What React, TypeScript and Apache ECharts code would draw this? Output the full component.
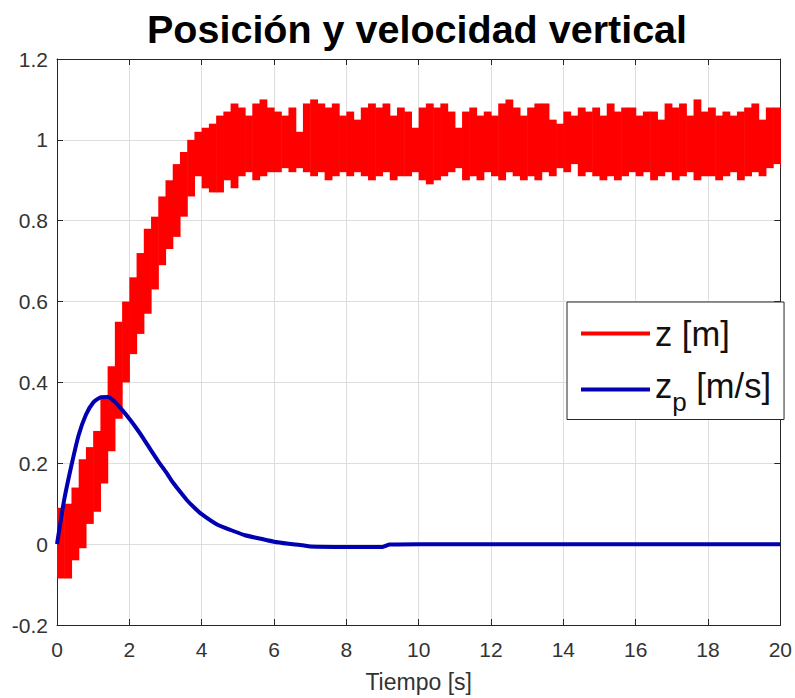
import { useEffect, useRef } from 'react';
import * as echarts from 'echarts';

const TITLE = 'Posición y velocidad vertical';
const X_NAME = 'Tiempo [s]';
const FONT = '"Liberation Sans", Arial, Helvetica, sans-serif';

// z [m] : sampled every 0.2 s, lower and upper edges of the noisy band
const tZ = [
  0, 0.2, 0.4, 0.6, 0.8, 1, 1.2, 1.4, 1.6, 1.8,
  2, 2.2, 2.4, 2.6, 2.8, 3, 3.2, 3.4, 3.6, 3.8,
  4, 4.2, 4.4, 4.6, 4.8, 5, 5.2, 5.4, 5.6, 5.8,
  6, 6.2, 6.4, 6.6, 6.8, 7, 7.2, 7.4, 7.6, 7.8,
  8, 8.2, 8.4, 8.6, 8.8, 9, 9.2, 9.4, 9.6, 9.8,
  10, 10.2, 10.4, 10.6, 10.8, 11, 11.2, 11.4, 11.6, 11.8,
  12, 12.2, 12.4, 12.6, 12.8, 13, 13.2, 13.4, 13.6, 13.8,
  14, 14.2, 14.4, 14.6, 14.8, 15, 15.2, 15.4, 15.6, 15.8,
  16, 16.2, 16.4, 16.6, 16.8, 17, 17.2, 17.4, 17.6, 17.8,
  18, 18.2, 18.4, 18.6, 18.8, 19, 19.2, 19.4, 19.6, 19.8,
  20,
];
const zLow = [
  -0.085, -0.085, -0.04, -0.01, 0.05, 0.08, 0.15, 0.23, 0.31, 0.4,
  0.47, 0.52, 0.57, 0.63, 0.69, 0.73, 0.76, 0.81, 0.86, 0.91,
  0.88, 0.87, 0.87, 0.9, 0.88, 0.91, 0.92, 0.9, 0.91, 0.92,
  0.92, 0.93, 0.92, 0.93, 0.92, 0.91, 0.92, 0.9, 0.91, 0.92,
  0.91, 0.92, 0.91, 0.9, 0.91, 0.92, 0.9, 0.91, 0.91, 0.92,
  0.9, 0.89, 0.9, 0.91, 0.92, 0.93, 0.9, 0.91, 0.9, 0.92,
  0.91, 0.9, 0.92, 0.91, 0.9, 0.91, 0.9, 0.92, 0.91, 0.93,
  0.92, 0.94, 0.91, 0.92, 0.91, 0.9, 0.91, 0.9, 0.91, 0.92,
  0.91, 0.92, 0.9, 0.91, 0.92, 0.9, 0.91, 0.92, 0.9, 0.91,
  0.91, 0.9, 0.91, 0.92, 0.9, 0.91, 0.92, 0.91, 0.93, 0.94,
  0.93,
];
const zHigh = [
  0.09, 0.1, 0.14, 0.21, 0.24, 0.28, 0.36, 0.44, 0.55, 0.6,
  0.66, 0.72, 0.78, 0.81, 0.86, 0.9, 0.94, 0.97, 1.0, 1.02,
  1.03, 1.04, 1.06, 1.07, 1.09, 1.08, 1.06, 1.09, 1.1, 1.08,
  1.07, 1.06, 1.08, 1.02, 1.09, 1.1, 1.09, 1.08, 1.09, 1.06,
  1.07, 1.05, 1.08, 1.09, 1.08, 1.09, 1.06, 1.08, 1.07, 1.03,
  1.08, 1.09, 1.08, 1.09, 1.07, 1.03, 1.07, 1.08, 1.06, 1.07,
  1.06, 1.09, 1.1, 1.08, 1.06, 1.08, 1.09, 1.09, 1.05, 1.04,
  1.07, 1.06, 1.08, 1.07, 1.08, 1.06, 1.09, 1.07, 1.08, 1.08,
  1.06, 1.07, 1.07, 1.05, 1.09, 1.08, 1.09, 1.06, 1.1, 1.07,
  1.08, 1.06, 1.07, 1.06, 1.07, 1.08, 1.09, 1.05, 1.08, 1.08,
  1.07,
];

// z_p [m/s]
const tZp = [
  0, 0.2, 0.4, 0.6, 0.8, 1, 1.2, 1.4, 1.6, 1.8,
  2, 2.2, 2.4, 2.6, 2.8, 3, 3.2, 3.4, 3.6, 3.8,
  4, 4.4, 4.8, 5.2, 5.6, 6, 6.4, 6.8, 7, 8,
  9, 9.2, 10, 12, 14, 16, 18, 20,
];
const zp = [
  0, 0.11, 0.195, 0.27, 0.32, 0.35, 0.363, 0.364, 0.352, 0.332,
  0.31, 0.286, 0.26, 0.232, 0.205, 0.18, 0.153, 0.13, 0.108, 0.09,
  0.074, 0.05, 0.035, 0.022, 0.014, 0.006, 0.001, -0.003, -0.006, -0.007,
  -0.007, -0.001, 0, 0, 0, 0, 0, 0,
];

const X_MIN = 0, X_MAX = 20, X_STEP = 2;
const Y_MIN = -0.2, Y_MAX = 1.2, Y_STEP = 0.2;

const AXIS_COLOR = '#262626';
const GRID_COLOR = '#dedede';
const RED = '#ff0000';
const BLUE = '#0000b0';

export default function App() {
  const ref = useRef<HTMLDivElement>(null);

  useEffect(() => {
    if (!ref.current) return;
    const chart = echarts.init(ref.current, undefined, { renderer: 'svg' });

    // each item: [t, low, high, tNext]
    const bandData = tZ.map((t, i) => [t, zLow[i], zHigh[i], i + 1 < tZ.length ? tZ[i + 1] : t]);
    const zpData = tZp.map((t, i) => [t, zp[i]]);

    const baseX = {
      type: 'value' as const,
      min: X_MIN,
      max: X_MAX,
      interval: X_STEP,
      axisLine: { show: true, onZero: false, lineStyle: { color: AXIS_COLOR, width: 1 } },
      axisTick: { show: true, inside: true, length: 6, lineStyle: { color: AXIS_COLOR } },
    };
    const baseY = {
      type: 'value' as const,
      min: Y_MIN,
      max: Y_MAX,
      interval: Y_STEP,
      axisLine: { show: true, onZero: false, lineStyle: { color: AXIS_COLOR, width: 1 } },
      axisTick: { show: true, inside: true, length: 6, lineStyle: { color: AXIS_COLOR } },
    };

    chart.setOption({
      animation: false,
      backgroundColor: '#ffffff',
      title: {
        text: TITLE,
        left: 147,
        top: 9,
        padding: 0,
        textStyle: { fontFamily: FONT, fontSize: 39.5, fontWeight: 'bold', color: '#000' },
      },
      grid: { left: 57, right: 13, top: 59, bottom: 73, containLabel: false },
      xAxis: [
        {
          ...baseX,
          position: 'bottom',
          name: X_NAME,
          nameLocation: 'middle',
          nameGap: 45,
          nameTextStyle: { fontFamily: FONT, fontSize: 23, color: '#333' },
          axisLabel: { show: true, margin: 14, fontFamily: FONT, fontSize: 21, color: '#333' },
          splitLine: { show: true, lineStyle: { color: GRID_COLOR, width: 1 } },
        },
        {
          ...baseX,
          position: 'top',
          axisLabel: { show: false },
          splitLine: { show: false },
        },
      ],
      yAxis: [
        {
          ...baseY,
          position: 'left',
          axisLabel: {
            show: true,
            margin: 9,
            fontFamily: FONT,
            fontSize: 21,
            color: '#333',
            formatter: (v: number) => String(Math.round(v * 10) / 10),
          },
          splitLine: { show: true, lineStyle: { color: GRID_COLOR, width: 1 } },
        },
        {
          ...baseY,
          position: 'right',
          axisLabel: { show: false },
          splitLine: { show: false },
        },
      ],
      legend: {
        data: ['z', 'zp'],
        orient: 'vertical',
        left: 567,
        top: 302,
        padding: [14, 13, 5, 14],
        itemGap: 17,
        itemWidth: 69,
        itemHeight: 4,
        icon: 'rect',
        backgroundColor: '#ffffff',
        borderColor: AXIS_COLOR,
        borderWidth: 1,
        borderRadius: 0,
        selectedMode: false,
        formatter: (name: string) =>
          name === 'z' ? '{b|z [m]}' : '{a|z}{s|p}{a| [m/s]}',
        textStyle: {
          rich: {
            b: { fontFamily: FONT, fontSize: 34.5, color: '#111' },
            a: { fontFamily: FONT, fontSize: 34.5, color: '#111', padding: [0, 0, 8, 0] },
            s: { fontFamily: FONT, fontSize: 26, color: '#111', padding: [24, 0, 0, 0] },
          },
        },
      },
      series: [
        {
          name: 'z',
          type: 'custom',
          coordinateSystem: 'cartesian2d',
          xAxisIndex: 0,
          yAxisIndex: 0,
          data: bandData,
          encode: { x: [0, 3], y: [1, 2] },
          itemStyle: { color: RED },
          clip: true,
          renderItem: (params: any, api: any) => {
            const t0 = api.value(0);
            const lo = api.value(1);
            const hi = api.value(2);
            const t1 = api.value(3);
            const pTop = api.coord([t0, hi]);
            const pBot = api.coord([t1, lo]);
            const x = pTop[0];
            const w = Math.max(pBot[0] - pTop[0] + 0.6, 0.6);
            return {
              type: 'rect',
              shape: { x, y: pTop[1], width: w, height: pBot[1] - pTop[1] },
              style: { fill: RED },
            };
          },
          z: 2,
        },
        {
          name: 'zp',
          type: 'line',
          xAxisIndex: 0,
          yAxisIndex: 0,
          data: zpData,
          smooth: 0.2,
          symbol: 'none',
          lineStyle: { color: BLUE, width: 4 },
          itemStyle: { color: BLUE },
          z: 3,
        },
      ],
    });

    return () => chart.dispose();
  }, []);

  return (
    <div
      ref={ref}
      style={{ position: 'fixed', left: 0, top: 0, width: 795, height: 698, background: '#fff' }}
    />
  );
}
